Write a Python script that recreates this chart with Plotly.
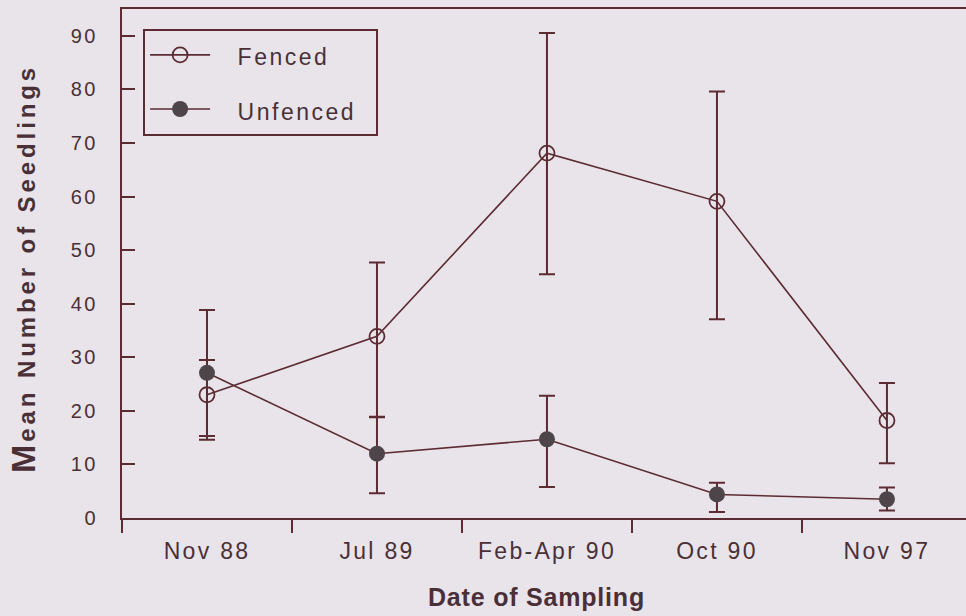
import plotly.graph_objects as go

# ---- data ----
categories = ["Nov 88", "Jul 89", "Feb-Apr 90", "Oct 90", "Nov 97"]
fenced = [23.0, 33.9, 68.1, 59.1, 18.2]
fenced_err_plus = [6.5, 13.8, 22.4, 20.5, 7.0]
fenced_err_minus = [7.7, 15.1, 22.6, 22.0, 8.0]
unfenced = [27.1, 12.0, 14.7, 4.4, 3.5]
unfenced_err_plus = [11.7, 6.9, 8.1, 2.2, 2.2]
unfenced_err_minus = [12.5, 7.4, 8.9, 3.3, 2.1]
y_ticks = [0, 10, 20, 30, 40, 50, 60, 70, 80, 90]

# ---- style ----
BG = "#e8e4ea"
INK = "#5c2b33"
TXT = "#4a3036"
DOT = "#4d4549"
FONT = "Liberation Sans, Arial, sans-serif"


def spaced(s, ls, size=None):
    fs = f"font-size:{size}px;" if size else ""
    return f'<span style="{fs}letter-spacing:{ls}px">{s}</span>'


def legend_name(s):
    return "&nbsp;&nbsp;&nbsp;" + spaced(s, 2.5, 23) + "&nbsp;&nbsp;"


fig = go.Figure()

fig.add_trace(go.Scatter(
    x=categories, y=fenced, name=legend_name("Fenced"), mode="lines+markers",
    legendgroup="f",
    line=dict(color=INK, width=1.6),
    marker=dict(symbol="circle-open", size=15, color=INK, line=dict(width=1.8, color=INK)),
    error_y=dict(type="data", symmetric=False, array=fenced_err_plus,
                 arrayminus=fenced_err_minus, color=INK, thickness=2, width=8),
))
fig.add_trace(go.Scatter(
    x=categories, y=unfenced, name=legend_name("Unfenced"), mode="lines+markers",
    legendgroup="u",
    line=dict(color=INK, width=1.6),
    marker=dict(symbol="circle", size=16, color=DOT, line=dict(width=0)),
    error_y=dict(type="data", symmetric=False, array=unfenced_err_plus,
                 arrayminus=unfenced_err_minus, color=INK, thickness=2, width=8),
))

fig.update_layout(
    width=966, height=616,
    margin=dict(l=122, r=0, t=9, b=98),
    paper_bgcolor=BG, plot_bgcolor=BG,
    font=dict(family=FONT, color=TXT),
    showlegend=True,
    legend=dict(
        x=0.025, y=0.961, xanchor="left", yanchor="top",
        bgcolor="rgba(0,0,0,0)", bordercolor=INK, borderwidth=2,
        font=dict(size=27, family=FONT, color=TXT),
        itemwidth=60, tracegroupgap=16,
    ),
    xaxis=dict(
        type="category", categoryorder="array", categoryarray=categories,
        range=[-0.5, 4.465], tickson="boundaries",
        tickmode="array", tickvals=categories,
        ticktext=[spaced(c, 2.3) for c in categories],
        ticks="outside", ticklen=13, tickwidth=2, tickcolor=INK,
        showline=True, linecolor=INK, linewidth=2, mirror=True,
        showgrid=False, zeroline=False,
        tickfont=dict(size=23, family=FONT, color=TXT),
        ticklabelstandoff=11,
    ),
    yaxis=dict(
        range=[0, 95],
        tickmode="array", tickvals=y_ticks,
        ticktext=[spaced(str(v), 2.5) for v in y_ticks],
        ticks="inside", ticklen=13, tickwidth=2, tickcolor=INK,
        showline=True, linecolor=INK, linewidth=2, mirror=False,
        showgrid=False, zeroline=False,
        tickfont=dict(size=20, family=FONT, color=TXT),
        ticklabelstandoff=18,
    ),
    annotations=[
        dict(text=spaced("Date of Sampling", 0.8), xref="paper", yref="paper",
             x=0.4917, y=-0.155, xanchor="center", yanchor="middle",
             showarrow=False, font=dict(size=25, family=FONT, color=TXT, weight="bold")),
        dict(text='<span style="font-size:34px;letter-spacing:3px">M</span>'
                  + spaced("ean Number of Seedlings", 3.9),
             xref="paper", yref="paper", textangle=-90,
             x=-0.118, y=0.49, xanchor="center", yanchor="middle",
             showarrow=False, font=dict(size=24, family=FONT, color=TXT, weight="bold")),
    ],
)

fig.write_html("out.html", config={"displayModeBar": False},
               post_script="document.body.style.margin='0px';")
